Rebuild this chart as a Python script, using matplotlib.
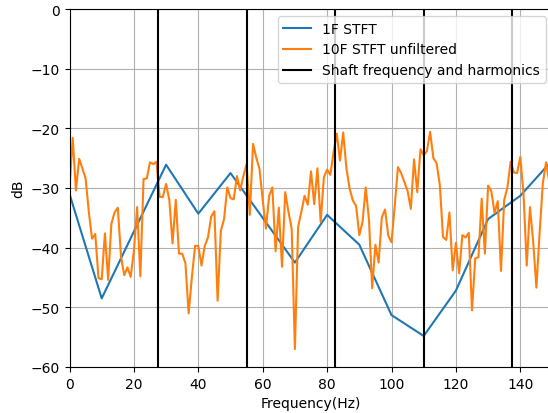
import matplotlib
matplotlib.use("Agg")
import matplotlib.pyplot as plt
import numpy as np

# 1F STFT: 10 Hz bins
freq_1f = np.arange(0, 151, 10)
db_1f = [-31.0, -48.5, -37.3, -26.1, -34.3, -27.5, -35.0, -42.5,
         -34.5, -39.5, -51.3, -54.8, -47.2, -35.2, -31.3, -25.3]

# 10F STFT unfiltered: 1 Hz bins
freq_10f = np.arange(0, 150)
db_10f = [
    -30.0, -21.6, -30.4, -25.1, -26.7, -28.4, -34.0, -38.5, -37.7, -45.1,
    -45.3, -37.6, -45.4, -36.0, -34.1, -33.3, -41.5, -44.6, -43.3, -44.9,
    -40.5, -33.2, -44.8, -28.5, -28.4, -25.7, -26.0, -25.6, -31.5, -31.5,
    -29.3, -32.0, -39.3, -32.0, -41.0, -41.0, -42.6, -51.0, -45.0, -39.7,
    -39.7, -43.0, -39.7, -38.3, -34.8, -33.9, -48.9, -37.2, -35.2, -29.9,
    -31.7, -31.9, -28.0, -30.4, -28.0, -26.0, -34.5, -22.6, -24.9, -26.8,
    -32.0, -36.8, -31.3, -29.9, -40.6, -33.3, -43.2, -30.7, -34.0, -36.8,
    -57.0, -36.5, -34.0, -31.3, -32.8, -27.2, -32.7, -26.7, -35.7, -28.2,
    -26.9, -27.8, -24.0, -20.9, -25.4, -20.7, -26.7, -30.1, -32.1, -33.0,
    -37.9, -35.7, -29.9, -35.3, -46.8, -39.5, -42.5, -34.9, -33.6, -38.0,
    -39.1, -33.0, -26.5, -27.5, -29.0, -30.5, -33.5, -25.2, -30.7, -23.5,
    -24.5, -23.8, -20.6, -25.0, -25.8, -29.5, -38.2, -38.7, -34.1, -43.8,
    -39.2, -44.3, -37.9, -38.3, -37.5, -50.5, -41.8, -41.6, -31.8, -41.0,
    -29.6, -30.5, -34.2, -32.2, -43.9, -32.0, -29.9, -25.6, -27.4, -27.5,
    -24.8, -31.0, -43.0, -33.2, -39.0, -46.7, -37.5, -29.2, -25.7, -29.0,
]

shaft_freq = 27.5
harmonics = [shaft_freq * k for k in range(1, 6)]

fig = plt.figure(figsize=(5.48, 4.14), dpi=100)
# right spine falls just outside the saved picture, as in the reference
ax = fig.add_axes([69.5 / 548, 46 / 414, 483 / 548, 358 / 414])

ax.plot(freq_1f, db_1f, label="1F STFT")
ax.plot(freq_10f, db_10f, label="10F STFT unfiltered")
for i, f in enumerate(harmonics):
    ax.axvline(f, color="k", label="Shaft frequency and harmonics" if i == 0 else None)

ax.set_xlim(0, 150)
ax.set_ylim(-60, 0)
ax.set_xlabel("Frequency(Hz)")
ax.set_ylabel("dB")
ax.grid(True)
ax.legend(loc="upper right")

fig.savefig("out.png", dpi=100)
